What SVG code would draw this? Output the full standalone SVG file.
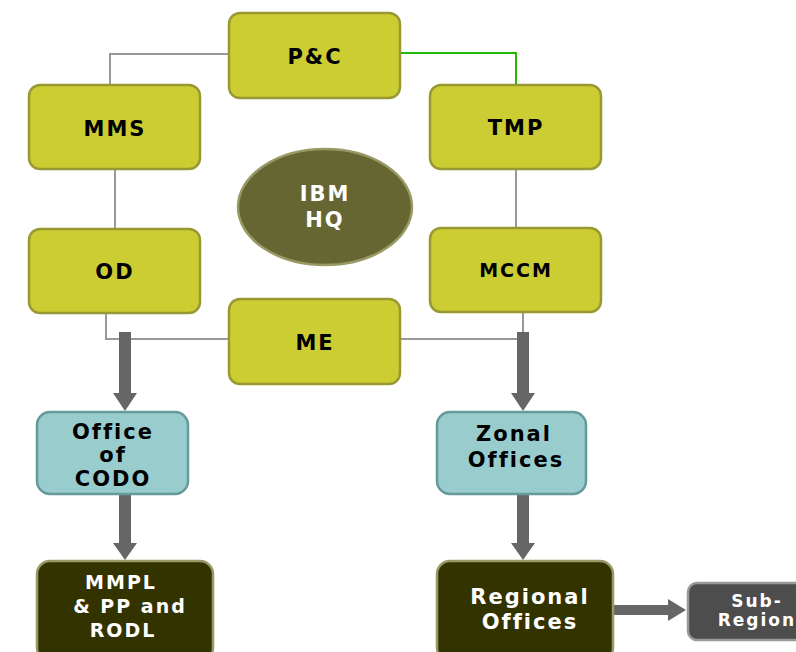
<svg xmlns="http://www.w3.org/2000/svg" width="796" height="652" viewBox="0 0 796 652">
<defs>
<style>
.y{fill:#cccc33;stroke:#999933;stroke-width:2.5}
.t{fill:#99cccc;stroke:#669999;stroke-width:2.5}
.d{fill:#333300;stroke:#999966;stroke-width:2.5}
.g{fill:#4d4d4d;stroke:#999999;stroke-width:2.5}
text{font-family:"DejaVu Sans",Verdana,sans-serif;font-weight:bold;text-anchor:middle;letter-spacing:2px}
.b{fill:#000}
.w{fill:#fff}
.ln{fill:none;stroke:#999999;stroke-width:2}
.arr{fill:#666666}
</style>
</defs>
<rect width="796" height="652" fill="#fff"/>
<g id="connectors">
<polyline class="ln" points="229,54 110,54 110,86"/>
<polyline points="400,53 516,53 516,87" fill="none" stroke="#22bb00" stroke-width="2"/>
<line class="ln" x1="115" y1="169" x2="115" y2="229"/>
<line class="ln" x1="516" y1="169" x2="516" y2="228"/>
<polyline class="ln" points="106,313 106,339 229,339"/>
<polyline class="ln" points="400,339 523,339 523,312"/>
<polygon class="arr" points="119,332 131,332 131,393 137,393 125,411 113,393 119,393"/>
<polygon class="arr" points="517,332 529,332 529,393 535,393 523,411 511,393 517,393"/>
<polygon class="arr" points="119,495 131,495 131,543 137,543 125,560 113,543 119,543"/>
<polygon class="arr" points="517,495 529,495 529,543 535,543 523,560 511,543 517,543"/>
<polygon class="arr" points="613,605 668,605 668,599 686,610 668,621 668,615 613,615"/>
</g>
<g id="pc"><rect class="y" x="229" y="13" width="171" height="85" rx="11"/><text class="b" x="315" y="64" font-size="21">P&amp;C</text></g>
<g id="mms"><rect class="y" x="29" y="85" width="171" height="84" rx="11"/><text class="b" x="115" y="136" font-size="21">MMS</text></g>
<g id="tmp"><rect class="y" x="430" y="85" width="171" height="84" rx="11"/><text class="b" x="516" y="135" font-size="21">TMP</text></g>
<g id="ibmhq"><ellipse cx="325" cy="207" rx="87" ry="58" fill="#666633" stroke="#999966" stroke-width="2.5"/><text class="w" x="325" y="201" font-size="21">IBM</text><text class="w" x="325" y="227" font-size="21">HQ</text></g>
<g id="od"><rect class="y" x="29" y="229" width="171" height="84" rx="11"/><text class="b" x="115" y="279" font-size="21">OD</text></g>
<g id="mccm"><rect class="y" x="430" y="228" width="171" height="84" rx="11"/><text class="b" x="516" y="277" font-size="19">MCCM</text></g>
<g id="me"><rect class="y" x="229" y="299" width="171" height="85" rx="11"/><text class="b" x="315" y="350" font-size="21">ME</text></g>
<g id="codo"><rect class="t" x="37" y="412" width="151" height="82" rx="13"/><text class="b" x="113" y="439" font-size="21">Office</text><text class="b" x="113" y="462" font-size="21">of</text><text class="b" x="113" y="486" font-size="21">CODO</text></g>
<g id="zonal"><rect class="t" x="437" y="412" width="149" height="82" rx="13"/><text class="b" x="514" y="441" font-size="21">Zonal</text><text class="b" x="516" y="467" font-size="21">Offices</text></g>
<g id="mmpl"><rect class="d" x="37" y="561" width="176" height="100" rx="13"/><text class="w" x="121" y="589" font-size="19">MMPL</text><text class="w" x="130" y="613" font-size="19"> &amp; PP and</text><text class="w" x="123" y="637" font-size="19">RODL</text></g>
<g id="regional"><rect class="d" x="437" y="561" width="176" height="100" rx="13"/><text class="w" x="530" y="604" font-size="21">Regional</text><text class="w" x="530" y="629" font-size="21">Offices</text></g>
<g id="subregions"><rect class="g" x="688" y="583" width="130" height="57" rx="9"/><text class="w" x="757" y="607" font-size="17">Sub-</text><text class="w" x="763" y="626" font-size="17">Regions</text></g>
</svg>
